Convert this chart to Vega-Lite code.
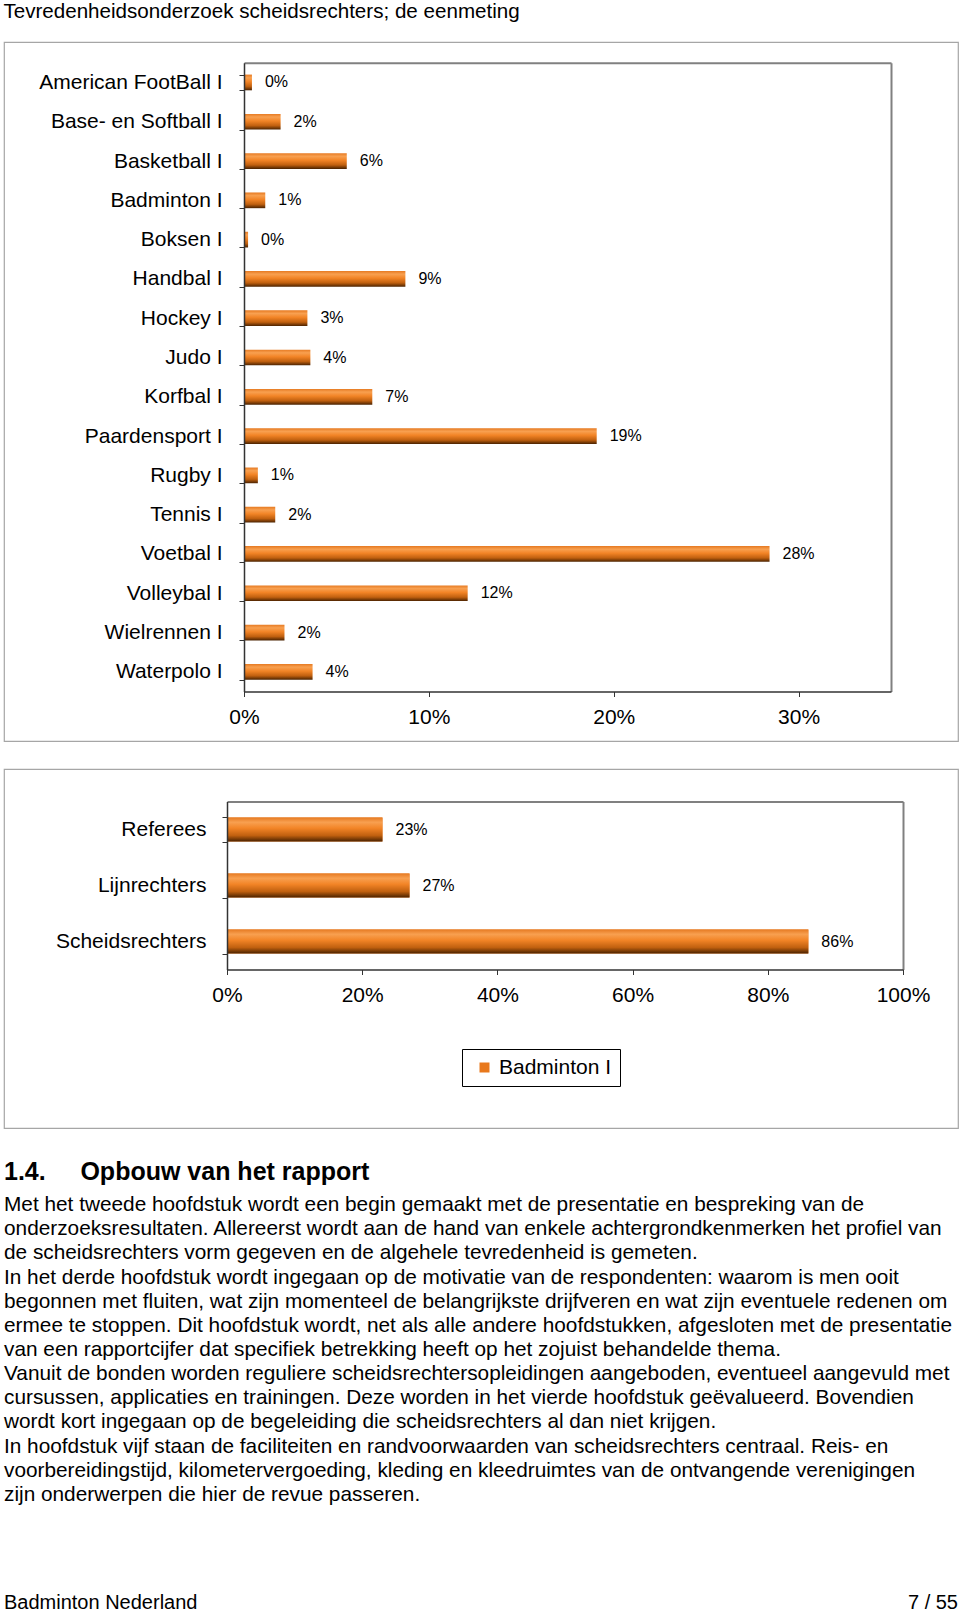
{
  "$schema": "https://vega.github.io/schema/vega-lite/v6.json",
  "background": "white",
  "padding": {"left": 3, "top": 2, "right": 3, "bottom": 0},
  "title": {"text": "Tevredenheidsonderzoek scheidsrechters; de eenmeting", "anchor": "start", "font": "Liberation Sans", "fontSize": 20.6, "fontWeight": "normal", "color": "#000000", "offset": 7.4},
  "spacing": 31,
  "resolve": {"scale": {"color": "independent"}, "legend": {"color": "independent"}},
  "config": {
    "font": "Liberation Sans",
    "view": {"stroke": "#a6a6a6", "strokeWidth": 1.2},
    "axis": {"labelFont": "Liberation Sans", "labelColor": "#000000", "domainColor": "#333333", "tickColor": "#333333", "domainWidth": 1.5, "labelLimit": 400, "title": null, "grid": false, "minExtent": 0, "labelFlush": false, "labelOverlap": false}
  },
  "datasets": {
    "sporten": [
      {"sport": "American FootBall I", "aandeel": 0.0043},
      {"sport": "Base- en Softball I", "aandeel": 0.0198},
      {"sport": "Basketball I", "aandeel": 0.0556},
      {"sport": "Badminton I", "aandeel": 0.0115},
      {"sport": "Boksen I", "aandeel": 0.0022},
      {"sport": "Handbal I", "aandeel": 0.0873},
      {"sport": "Hockey I", "aandeel": 0.0343},
      {"sport": "Judo I", "aandeel": 0.0359},
      {"sport": "Korfbal I", "aandeel": 0.0694},
      {"sport": "Paardensport I", "aandeel": 0.1908},
      {"sport": "Rugby I", "aandeel": 0.0075},
      {"sport": "Tennis I", "aandeel": 0.0169},
      {"sport": "Voetbal I", "aandeel": 0.2843},
      {"sport": "Volleybal I", "aandeel": 0.121},
      {"sport": "Wielrennen I", "aandeel": 0.0219},
      {"sport": "Waterpolo I", "aandeel": 0.0371}
    ],
    "functies": [
      {"functie": "Referees", "aandeel": 0.23, "reeks": "Badminton I"},
      {"functie": "Lijnrechters", "aandeel": 0.27, "reeks": "Badminton I"},
      {"functie": "Scheidsrechters", "aandeel": 0.86, "reeks": "Badminton I"}
    ],
    "regels": [
      {"regel": 1, "tekst": "Met het tweede hoofdstuk wordt een begin gemaakt met de presentatie en bespreking van de"},
      {"regel": 2, "tekst": "onderzoeksresultaten. Allereerst wordt aan de hand van enkele achtergrondkenmerken het profiel van"},
      {"regel": 3, "tekst": "de scheidsrechters vorm gegeven en de algehele tevredenheid is gemeten."},
      {"regel": 4, "tekst": "In het derde hoofdstuk wordt ingegaan op de motivatie van de respondenten: waarom is men ooit"},
      {"regel": 5, "tekst": "begonnen met fluiten, wat zijn momenteel de belangrijkste drijfveren en wat zijn eventuele redenen om"},
      {"regel": 6, "tekst": "ermee te stoppen. Dit hoofdstuk wordt, net als alle andere hoofdstukken, afgesloten met de presentatie"},
      {"regel": 7, "tekst": "van een rapportcijfer dat specifiek betrekking heeft op het zojuist behandelde thema."},
      {"regel": 8, "tekst": "Vanuit de bonden worden reguliere scheidsrechtersopleidingen aangeboden, eventueel aangevuld met"},
      {"regel": 9, "tekst": "cursussen, applicaties en trainingen. Deze worden in het vierde hoofdstuk geëvalueerd. Bovendien"},
      {"regel": 10, "tekst": "wordt kort ingegaan op de begeleiding die scheidsrechters al dan niet krijgen."},
      {"regel": 11, "tekst": "In hoofdstuk vijf staan de faciliteiten en randvoorwaarden van scheidsrechters centraal. Reis- en"},
      {"regel": 12, "tekst": "voorbereidingstijd, kilometervergoeding, kleding en kleedruimtes van de ontvangende verenigingen"},
      {"regel": 13, "tekst": "zijn onderwerpen die hier de revue passeren."}
    ],
    "voet": [
      {"kant": "links", "tekst": "Badminton Nederland"},
      {"kant": "rechts", "tekst": "7 / 55"}
    ]
  },
  "vconcat": [
    {
      "spacing": 15,
      "resolve": {"scale": {"color": "independent"}, "legend": {"color": "independent"}},
      "vconcat": [
        {
          "width": 954,
          "height": 699,
          "data": {"name": "sporten"},
          "resolve": {"axis": {"x": "independent", "y": "independent"}},
          "layer": [
            {
              "mark": {"type": "bar", "color": {"gradient": "linear", "x1": 0, "y1": 0, "x2": 0, "y2": 1, "stops": [
                {"offset": 0, "color": "#E67A22"}, {"offset": 0.2, "color": "#F8A050"}, {"offset": 0.45, "color": "#F28426"}, {"offset": 0.75, "color": "#C0600F"}, {"offset": 1, "color": "#4A2200"}]}},
              "encoding": {
                "y": {"field": "sport", "type": "nominal", "sort": null, "scale": {"range": [20.8, 649.5], "paddingInner": 0.6, "paddingOuter": 0.3},
                  "axis": {"orient": "left", "offset": -240, "zindex": 1, "labelFontSize": 21, "tickBand": "extent", "tickSize": 5, "labelPadding": 17}},
                "x": {"field": "aandeel", "type": "quantitative", "scale": {"domain": [0, 0.35], "range": [240, 887], "nice": false},
                  "axis": {"orient": "bottom", "offset": -49.5, "zindex": 1, "values": [0, 0.1, 0.2, 0.3], "format": ".0%", "labelFontSize": 21, "tickSize": 5, "labelPadding": 9.5}}
              }
            },
            {
              "mark": {"type": "text", "align": "left", "baseline": "middle", "dx": 13, "font": "Liberation Sans", "fontSize": 16, "color": "#000000"},
              "encoding": {
                "y": {"field": "sport", "type": "nominal", "sort": null,
                  "axis": {"orient": "right", "offset": -67, "labels": false, "ticks": false, "domainColor": "#808080", "domainWidth": 2}},
                "x": {"field": "aandeel", "type": "quantitative",
                  "axis": {"orient": "top", "offset": -20.8, "labels": false, "ticks": false, "domainColor": "#808080", "domainWidth": 2}},
                "text": {"field": "aandeel", "type": "quantitative", "format": ".0%"}
              }
            }
          ]
        },
        {
          "width": 954,
          "height": 359,
          "data": {"name": "functies"},
          "resolve": {"axis": {"x": "independent", "y": "independent"}},
          "layer": [
            {
              "mark": {"type": "bar"},
              "encoding": {
                "y": {"field": "functie", "type": "nominal", "sort": null, "scale": {"range": [32.5, 200.5], "paddingInner": 0.57, "paddingOuter": 0.285},
                  "axis": {"orient": "left", "offset": -223, "zindex": 1, "labelFontSize": 21, "tickBand": "extent", "tickSize": 5, "labelPadding": 16}},
                "x": {"field": "aandeel", "type": "quantitative", "scale": {"domain": [0, 1], "range": [223, 899], "nice": false},
                  "axis": {"orient": "bottom", "offset": -158.5, "zindex": 1, "values": [0, 0.2, 0.4, 0.6, 0.8, 1], "format": ".0%", "labelFontSize": 21, "tickSize": 5, "labelPadding": 9.5}},
                "color": {"field": "reeks", "type": "nominal", "scale": {"range": ["#E8781C"]},
                  "legend": {"orient": "none", "legendX": 458, "legendY": 280, "title": null, "strokeColor": "#000000", "padding": 8, "symbolType": "square", "symbolSize": 100, "symbolOffset": 4, "labelOffset": 4, "labelFontSize": 21, "labelFont": "Liberation Sans", "labelColor": "#000000", "symbolStrokeWidth": 0}}
              }
            },
            {
              "mark": {"type": "bar", "color": {"gradient": "linear", "x1": 0, "y1": 0, "x2": 0, "y2": 1, "stops": [
                {"offset": 0, "color": "#E67A22"}, {"offset": 0.2, "color": "#F8A050"}, {"offset": 0.45, "color": "#F28426"}, {"offset": 0.75, "color": "#C0600F"}, {"offset": 1, "color": "#4A2200"}]}},
              "encoding": {
                "y": {"field": "functie", "type": "nominal", "sort": null,
                  "axis": {"orient": "right", "offset": -55, "labels": false, "ticks": false, "domainColor": "#808080", "domainWidth": 2}},
                "x": {"field": "aandeel", "type": "quantitative",
                  "axis": {"orient": "top", "offset": -32.5, "labels": false, "ticks": false, "domainColor": "#808080", "domainWidth": 2}}
              }
            },
            {
              "mark": {"type": "text", "align": "left", "baseline": "middle", "dx": 13, "font": "Liberation Sans", "fontSize": 16, "color": "#000000"},
              "encoding": {
                "y": {"field": "functie", "type": "nominal", "sort": null, "axis": null},
                "x": {"field": "aandeel", "type": "quantitative", "axis": null},
                "text": {"field": "aandeel", "type": "quantitative", "format": ".0%"}
              }
            }
          ]
        }
      ]
    },
    {
      "spacing": 86,
      "vconcat": [
        {
          "width": 954,
          "height": 314,
          "view": {"stroke": null},
          "title": {"text": "1.4.\u00a0\u00a0\u00a0\u00a0\u00a0Opbouw van het rapport", "anchor": "start", "font": "Liberation Sans", "fontSize": 25, "fontWeight": "bold", "color": "#000000", "offset": 8},
          "data": {"name": "regels"},
          "mark": {"type": "text", "align": "left", "baseline": "middle", "font": "Liberation Sans", "fontSize": 20.8, "color": "#000000"},
          "encoding": {
            "y": {"field": "regel", "type": "ordinal", "axis": null, "scale": {"paddingInner": 0, "paddingOuter": 0}},
            "x": {"datum": 0, "type": "quantitative", "scale": {"domain": [0, 1]}, "axis": null},
            "text": {"field": "tekst"}
          }
        },
        {
          "width": 954,
          "height": 20,
          "view": {"stroke": null},
          "data": {"name": "voet"},
          "encoding": {
            "x": {"field": "kant", "type": "nominal", "sort": null, "scale": {"type": "point", "padding": 0}, "axis": null},
            "text": {"field": "tekst"}
          },
          "layer": [
            {"transform": [{"filter": "datum.kant === 'links'"}], "mark": {"type": "text", "align": "left", "baseline": "middle", "font": "Liberation Sans", "fontSize": 20, "color": "#000000"}},
            {"transform": [{"filter": "datum.kant === 'rechts'"}], "mark": {"type": "text", "align": "right", "baseline": "middle", "font": "Liberation Sans", "fontSize": 20, "color": "#000000"}}
          ]
        }
      ]
    }
  ]
}
